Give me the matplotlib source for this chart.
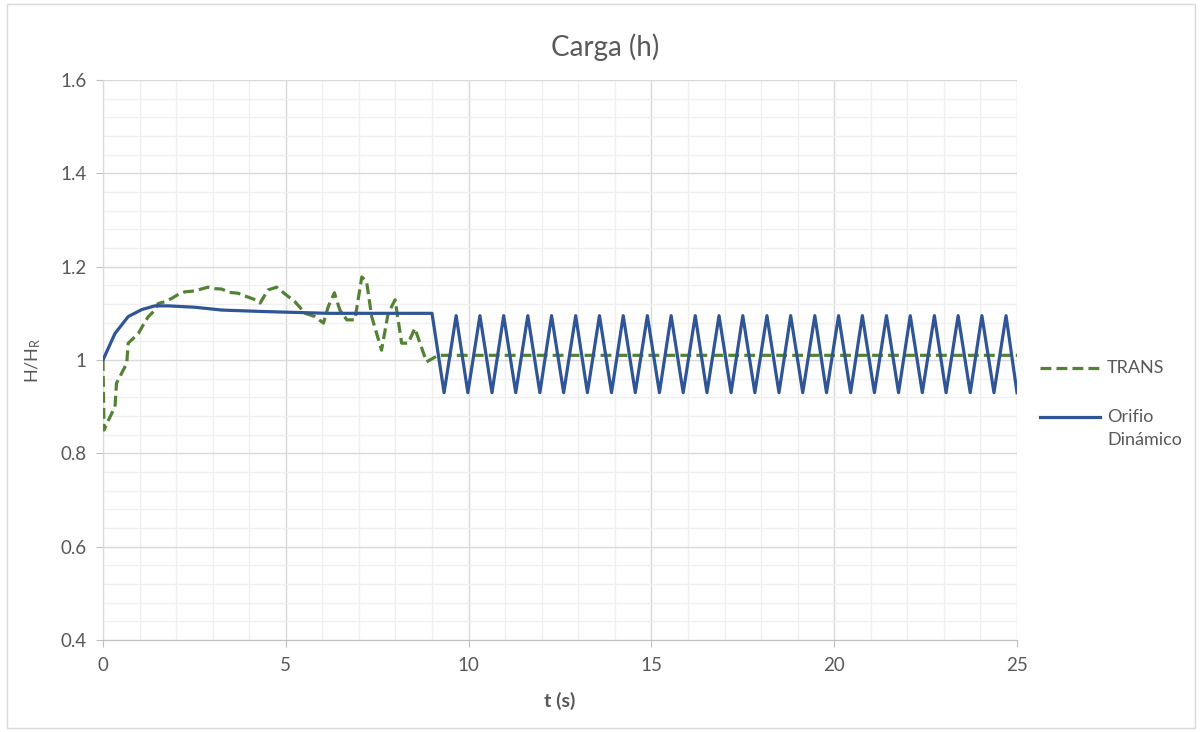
"""Carga (h) - TRANS vs Orifio Dinamico"""
import matplotlib

matplotlib.use("Agg")
import matplotlib.pyplot as plt
from matplotlib.lines import Line2D
from matplotlib.patches import Rectangle
from matplotlib.ticker import MultipleLocator

plt.rcParams["font.family"] = ["Lato", "DejaVu Sans"]
plt.rcParams["mathtext.fontset"] = "custom"
plt.rcParams["mathtext.rm"] = "Lato"

# TRANS (green dashed)
t_trans = [0.0, 0.03, 0.15, 0.33, 0.37, 0.65, 0.69, 0.97, 1.10, 1.24, 1.40, 1.51, 1.70,
           1.88, 2.05, 2.24, 2.50, 2.87, 3.05, 3.25, 3.45, 3.70, 3.85, 4.07, 4.20, 4.30,
           4.51, 4.75, 5.02, 5.25, 5.53, 5.80, 6.03, 6.16, 6.33, 6.48, 6.67, 6.89, 7.08,
           7.21, 7.35, 7.62, 7.80, 7.99, 8.17, 8.35, 8.53, 8.85, 9.17, 25.0]
h_trans = [1.0, 0.85, 0.871, 0.90, 0.95, 0.993, 1.036, 1.057, 1.075, 1.093, 1.105, 1.121, 1.125,
           1.132, 1.14, 1.146, 1.148, 1.156, 1.153, 1.152, 1.145, 1.143, 1.138, 1.132, 1.128, 1.122,
           1.15, 1.156, 1.139, 1.125, 1.10, 1.093, 1.079, 1.114, 1.144, 1.107, 1.086, 1.086, 1.178,
           1.168, 1.093, 1.021, 1.10, 1.129, 1.036, 1.036, 1.068, 0.996, 1.01, 1.01]

# Orifio Dinamico (blue) - smooth part, then triangle oscillation
t_orif = [0.0, 0.33, 0.69, 1.06, 1.42, 1.79, 2.52, 3.25, 4.34, 6.16, 9.0,
          9.33, 9.66, 9.98, 10.31, 10.64, 10.96, 11.29, 11.62, 11.95, 12.27,
          12.60, 12.93, 13.25, 13.58, 13.91, 14.23, 14.56, 14.89, 15.22, 15.54,
          15.87, 16.20, 16.52, 16.85, 17.18, 17.50, 17.83, 18.16, 18.49, 18.81,
          19.14, 19.47, 19.79, 20.12, 20.45, 20.77, 21.10, 21.43, 21.76, 22.08,
          22.41, 22.74, 23.06, 23.39, 23.72, 24.04, 24.37, 24.70, 25.0]
h_orif = [1.0, 1.057, 1.093, 1.108, 1.116, 1.116, 1.113, 1.107, 1.104, 1.10, 1.10,
          0.93, 1.095, 0.93, 1.095, 0.93, 1.095, 0.93, 1.095, 0.93, 1.095,
          0.93, 1.095, 0.93, 1.095, 0.93, 1.095, 0.93, 1.095, 0.93, 1.095,
          0.93, 1.095, 0.93, 1.095, 0.93, 1.095, 0.93, 1.095, 0.93, 1.095,
          0.93, 1.095, 0.93, 1.095, 0.93, 1.095, 0.93, 1.095, 0.93, 1.095,
          0.93, 1.095, 0.93, 1.095, 0.93, 1.095, 0.93, 1.095, 0.93]

x_ticks = [0, 5, 10, 15, 20, 25]
y_ticks = [0.4, 0.6, 0.8, 1.0, 1.2, 1.4, 1.6]
y_tick_labels = ["0.4", "0.6", "0.8", "1", "1.2", "1.4", "1.6"]

green = "#548235"
blue = "#2f5597"
grey_txt = "#595959"

fig = plt.figure(figsize=(12, 7.32), dpi=100)
ax = fig.add_axes([0.0858, 0.1257, 0.7617, 0.765])

ax.plot(t_trans, h_trans, color=green, lw=2.3, dashes=[3.4, 1.6], zorder=3)
ax.plot(t_orif, h_orif, color=blue, lw=2.3, zorder=4)

ax.set_xlim(0, 25)
ax.set_ylim(0.4, 1.6)
ax.set_xticks(x_ticks)
ax.set_yticks(y_ticks)
ax.set_yticklabels(y_tick_labels)
ax.xaxis.set_minor_locator(MultipleLocator(1))
ax.yaxis.set_minor_locator(MultipleLocator(0.04))
ax.grid(which="major", color="#d9d9d9", lw=1.0, zorder=1)
ax.grid(which="minor", color="#efefef", lw=0.9, zorder=0)
ax.set_axisbelow(True)
for s in ["top", "right"]:
    ax.spines[s].set_visible(False)
ax.spines["left"].set_color("#d9d9d9")
ax.spines["bottom"].set_color("#bfbfbf")
ax.tick_params(which="major", length=5, color="#bfbfbf", labelsize=13.5,
               labelcolor=grey_txt, pad=7)
ax.tick_params(which="minor", length=0)

fig.text(605 / 1200, 1 - 47 / 732, "Carga (h)", fontsize=20, color=grey_txt,
         ha="center", va="center")
ax.set_xlabel("t (s)", fontsize=14, fontweight="bold", color=grey_txt, labelpad=13)
ax.set_ylabel(r"$\mathrm{H/H_R}$", fontsize=13, color=grey_txt, labelpad=12)

# legend drawn at the right, like the Excel layout
fig.add_artist(Line2D([1040 / 1200, 1100 / 1200], [1 - 368 / 732] * 2,
                      color=green, lw=2.3, dashes=[3.4, 1.6]))
fig.text(1107 / 1200, 1 - 368 / 732, "TRANS", fontsize=13, color=grey_txt, va="center")
fig.add_artist(Line2D([1040 / 1200, 1100 / 1200], [1 - 417 / 732] * 2,
                      color=blue, lw=2.3))
fig.text(1107 / 1200, 1 - 417 / 732, "Orifio", fontsize=13, color=grey_txt, va="center")
fig.text(1107 / 1200, 1 - 440 / 732, "Dinámico", fontsize=13, color=grey_txt, va="center")

# chart border
fig.add_artist(Rectangle((0.006, 0.006), 0.99, 0.988, transform=fig.transFigure,
                         fill=False, edgecolor="#d9d9d9", lw=1))

plt.savefig("out.png", dpi=100)
